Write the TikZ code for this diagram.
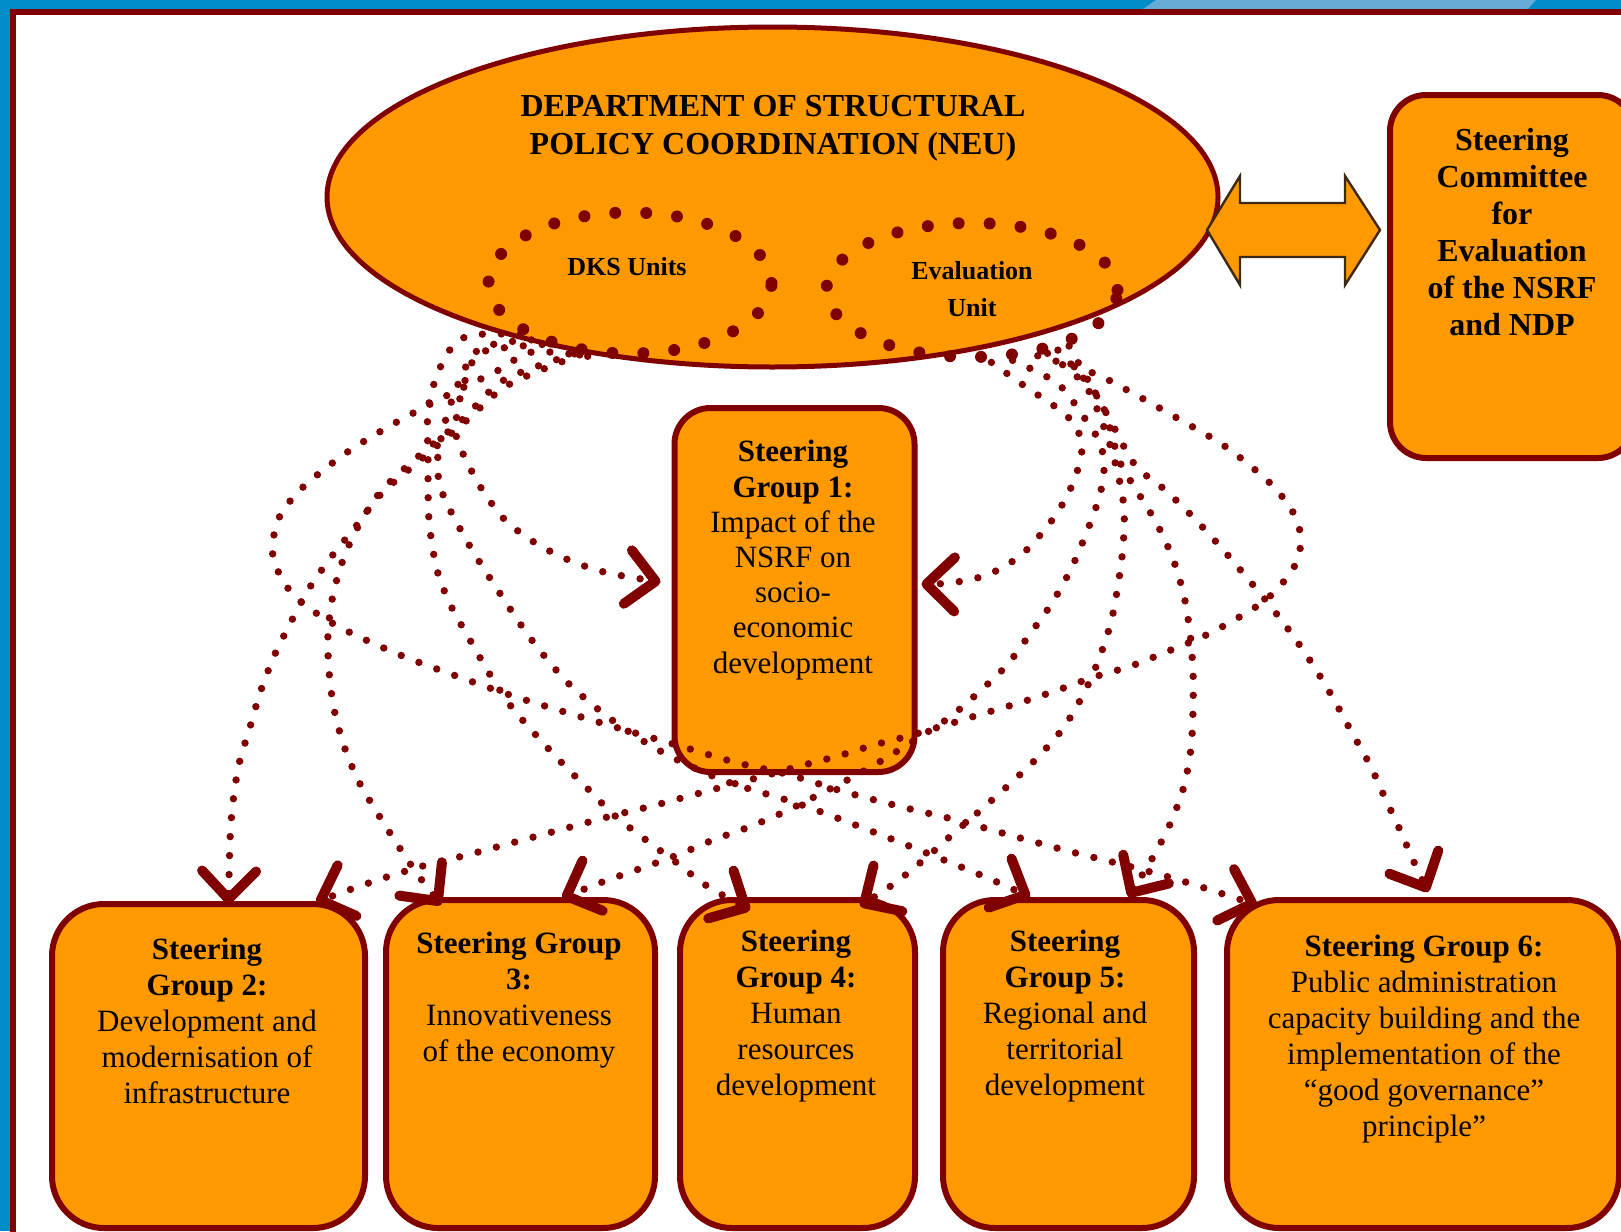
\documentclass[tikz,border=0pt]{standalone}
\usepackage{fontspec}
\setmainfont{Liberation Serif}
\usetikzlibrary{shapes.geometric,arrows.meta}
\definecolor{org}{RGB}{255,153,0}
\definecolor{drk}{RGB}{128,0,0}
\definecolor{bluebg}{RGB}{0,140,200}
\definecolor{bluelt}{RGB}{100,172,214}
\definecolor{arrline}{RGB}{60,40,20}
\tikzset{
  box/.style={draw=drk, fill=org, line width=3pt, rounded corners=26pt, inner sep=0pt, outer sep=0pt},
  txt/.style={align=center, inner sep=0pt, font=\fontsize{15.5}{18}\selectfont},
  conn/.style={draw=drk, line width=3.7pt, line cap=round, dash pattern=on 0pt off 9.5pt,
    -{Straight Barb[length=14pt,width=27pt,line width=5pt,round]}},
  bigdots/.style={draw=drk, line width=6pt, line cap=round, dash pattern=on 0pt off 15.5pt},
}
\begin{document}
\begin{tikzpicture}[x=0.5pt,y=-0.5pt]
\useasboundingbox (0,0) rectangle (1621,1231);
\clip (0,0) rectangle (1621,1231);
% frame
\fill[bluebg] (0,0) rectangle (1621,1231);
\fill[bluelt] (1156,0) -- (1536,0) -- (1528,9) -- (1143,9) -- cycle;
\fill[white] (10,9) rectangle (1640,1250);
\draw[drk, line width=3pt] (12.5,1250) -- (12.5,12) -- (1640,12);
% main ellipse
\node[ellipse, draw=drk, fill=org, line width=2.5pt, minimum width=445.5pt, minimum height=170pt, inner sep=0pt] (neu) at (772.5,197) {};
\node[font=\bfseries\fontsize{16}{19}\selectfont, align=center, inner sep=0pt, anchor=north] (neut) at (773,95) {DEPARTMENT OF STRUCTURAL\\POLICY COORDINATION (NEU)};
% inner dotted ellipses
\node[ellipse, bigdots, minimum width=141.5pt, minimum height=70.5pt, inner sep=0pt] (dks) at (630,283) {};
\node[font=\bfseries\fontsize{13}{18.5}\selectfont, inner sep=0pt, anchor=base] (dkst) at (627,275) {DKS Units};
\node[ellipse, bigdots, minimum width=145.5pt, minimum height=67pt, inner sep=0pt] (evu) at (972,290) {};
\node[font=\bfseries\fontsize{13}{18.5}\selectfont, align=center, inner sep=0pt, anchor=north] (evut) at (972,261) {Evaluation\\Unit};
% steering committee
\node[box, rounded corners=18pt, minimum width=122pt, minimum height=181.5pt] (sc) at (1512,276.5) {};
\node[font=\bfseries\fontsize{16}{18.5}\selectfont, align=center, inner sep=0pt, anchor=north] (sct) at (1512,128) {Steering\\Committee\\for\\Evaluation\\of the NSRF\\and NDP};
% double block arrow
\draw[arrline, fill=org, line width=1.2pt, line join=miter] (1207,230) -- (1240,176) -- (1240,203) -- (1345,203) -- (1345,176) -- (1380,230) -- (1345,285) -- (1345,257) -- (1240,257) -- (1240,285) -- cycle;
% steering group 1
\node[box, rounded corners=18pt, minimum width=120pt, minimum height=182pt] (sg1) at (794.5,590) {};
\node[txt, font=\fontsize{15.5}{17.6}\selectfont, anchor=north] (t1) at (793,440) {\textbf{Steering}\\\textbf{Group 1:}\\Impact of the\\NSRF on\\socio-\\economic\\development};
% bottom boxes
\node[box, minimum width=156.5pt, minimum height=162pt] (sg2) at (208.5,1066) {};
\node[box, minimum width=134.5pt, minimum height=164pt] (sg3) at (520.5,1064) {};
\node[box, minimum width=117.5pt, minimum height=164pt] (sg4) at (797.5,1064) {};
\node[box, minimum width=125.5pt, minimum height=164pt] (sg5) at (1068.5,1064) {};
\node[box, minimum width=196pt, minimum height=164pt] (sg6) at (1423,1064) {};
\node[txt, anchor=north] (t2) at (207,938) {\textbf{Steering}\\\textbf{Group 2:}\\Development and\\modernisation of\\infrastructure};
\node[txt, anchor=north] (t3) at (519,932) {\textbf{Steering Group}\\\textbf{3:}\\Innovativeness\\of the economy};
\node[txt, anchor=north] (t4) at (796,930) {\textbf{Steering}\\\textbf{Group 4:}\\Human\\resources\\development};
\node[txt, anchor=north] (t5) at (1065,930) {\textbf{Steering}\\\textbf{Group 5:}\\Regional and\\territorial\\development};
\node[txt, anchor=north] (t6) at (1424,935) {\textbf{Steering Group 6:}\\Public administration\\capacity building and the\\implementation of the\\“good governance”\\principle”};
% arrow tip coordinates
\coordinate (a1l) at ([xshift=-7pt,yshift=4pt]sg1.west);
\coordinate (a1r) at ([xshift=3.5pt,yshift=3pt]sg1.east);
\coordinate (a2l) at ([xshift=10pt]sg2.north);
\coordinate (a2r) at ([xshift=-24.5pt,yshift=1pt]sg2.north east);
\coordinate (a3l) at ([xshift=27.5pt,yshift=-2.5pt]sg3.north west);
\coordinate (a3r) at ([xshift=-46.5pt,yshift=1pt]sg3.north east);
\coordinate (a4l) at ([xshift=35pt,yshift=-5pt]sg4.north west);
\coordinate (a4r) at ([xshift=-27.5pt,yshift=-3pt]sg4.north east);
\coordinate (a5l) at ([xshift=43.5pt,yshift=1.5pt]sg5.north west);
\coordinate (a5r) at ([xshift=30pt,yshift=1.5pt]sg5.north);
\coordinate (a6l) at ([xshift=15pt,yshift=-2.5pt]sg6.north west);
\coordinate (a6r) at ([xshift=2.5pt,yshift=4pt]sg6.north);
% connectors from DKS Units
\draw[conn] plot[smooth] coordinates {(dks.215) (482,352) (466,378) (458,408) (456,435) (466,460) (483,491) (506,521) (537,544) (571,561) (608,573) (a1l)};
\draw[conn] plot[smooth] coordinates {(dks.235) (508,385) (466,421) (424,457) (382,493) (357,525) (332,556) (310,587) (292,620) (275,654) (261,690) (250,727) (239,764) (233,802) (230,840) (a2l)};
\draw[conn] plot[smooth] coordinates {(dks.232) (504,380) (462,420) (420,455) (382,490) (360,523) (344,557) (333,595) (328,633) (329,671) (334,709) (344,746) (359,782) (378,814) (399,847) (418,875) (a3l)};
\draw[conn] plot[smooth] coordinates {(dks.205) (472,335) (452,347) (437,375) (428,410) (428,457) (429,520) (437,570) (451,606) (470,640) (489,673) (510,705) (535,734) (561,762) (588,789) (614,815) (646,840) (677,863) (707,886) (a4l)};
\draw[conn] plot[smooth] coordinates {(dks.210) (478,350) (452,400) (438,455) (442,492) (468,543) (499,592) (531,639) (568,683) (612,720) (662,752) (725,781) (802,805) (894,840) (983,876) (a5l)};
\draw[conn] plot[smooth] coordinates {(dks.240) (532,352) (497,371) (446,396) (395,423) (346,453) (301,489) (278,520) (273,557) (290,591) (319,615) (353,634) (405,657) (459,677) (513,696) (568,713) (625,730) (680,746) (734,762) (790,775) (845,792) (902,807) (956,820) (1013,836) (1068,851) (1124,865) (1179,880) (a6l)};
% connectors from Evaluation Unit
\draw[conn] plot[smooth] coordinates {(evu.285) (1026,387) (1057,408) (1075,425) (1082,448) (1075,478) (1062,505) (1046,528) (1020,556) (987,575) (950,583) (a1r)};
\draw[conn] plot[smooth] coordinates {(evu.315) (1093,373) (1127,390) (1177,418) (1226,447) (1271,484) (1294,514) (1301,541) (1293,569) (1268,598) (1236,619) (1202,637) (1166,652) (1131,666) (1094,677) (1058,690) (1022,702) (985,713) (949,724) (912,735) (874,745) (838,756) (800,766) (764,776) (726,786) (689,796) (652,806) (615,815) (578,825) (541,835) (504,845) (467,855) (430,864) (393,875) (360,886) (a2r)};
\draw[conn] plot[smooth] coordinates {(evu.300) (1057,383) (1081,413) (1100,443) (1104,470) (1099,498) (1086,534) (1071,569) (1052,603) (1030,634) (1007,665) (979,692) (950,717) (918,738) (886,758) (853,777) (818,795) (784,812) (749,827) (713,840) (680,854) (642,868) (605,881) (a3r)};
\draw[conn] plot[smooth] coordinates {(evu.320) (1085,385) (1105,430) (1117,470) (1124,508) (1123,547) (1118,585) (1111,622) (1099,659) (1084,693) (1064,727) (1039,756) (1012,782) (983,808) (954,833) (927,857) (895,883) (a4r)};
\draw[conn] plot[smooth] coordinates {(evu.325) (1100,400) (1119,460) (1137,491) (1157,524) (1173,559) (1184,596) (1190,633) (1193,672) (1193,710) (1191,748) (1184,786) (1171,822) (1153,857) (a5r)};
\draw[conn] plot[smooth] coordinates {(evu.330) (1110,420) (1135,465) (1164,489) (1192,516) (1218,544) (1243,573) (1268,603) (1291,633) (1313,665) (1333,698) (1351,731) (1370,765) (1385,798) (1400,830) (1413,860) (a6r)};
\end{tikzpicture}
\end{document}
